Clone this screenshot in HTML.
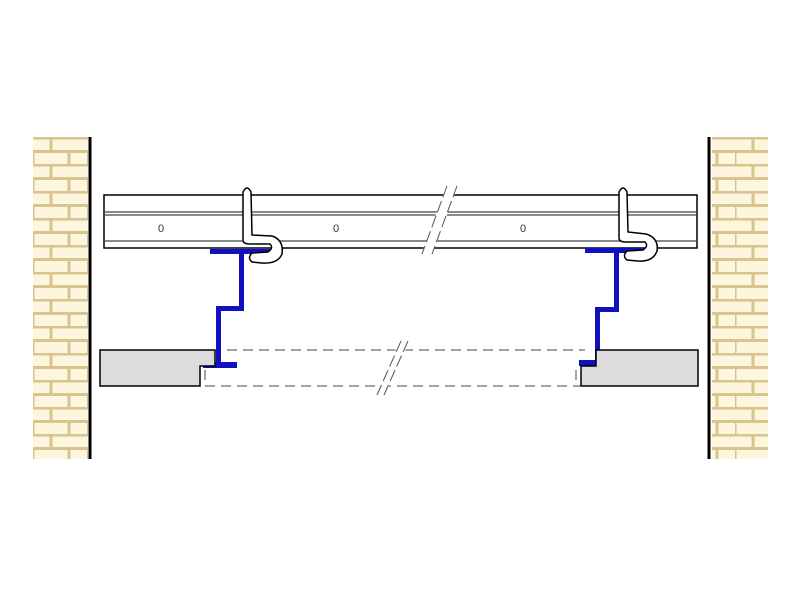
<!DOCTYPE html>
<html><head><style>html,body{margin:0;padding:0;background:#fff}svg{display:block}</style></head>
<body>
<svg width="800" height="600" xmlns="http://www.w3.org/2000/svg">
<defs>
<pattern id="brick" x="33" y="137" width="54" height="27" patternUnits="userSpaceOnUse">
<rect width="54" height="27" fill="#fdf6df"/>
<g stroke="#d8c48c" stroke-width="3" fill="none">
<line x1="0" y1="1" x2="54" y2="1"/><line x1="0" y1="14.5" x2="54" y2="14.5"/>
<line x1="18" y1="1" x2="18" y2="14.5"/><line x1="0" y1="14.5" x2="0" y2="27"/><line x1="36" y1="14.5" x2="36" y2="27"/>
</g>
</pattern>
</defs>
<rect x="33" y="137" width="55" height="322" fill="url(#brick)"/>
<rect x="712" y="137" width="56" height="322" fill="url(#brick)"/>
<line x1="90" y1="137" x2="90" y2="459" stroke="#000" stroke-width="3"/>
<line x1="709" y1="137" x2="709" y2="459" stroke="#000" stroke-width="3"/>

<!-- rail -->
<rect x="104" y="195" width="593" height="53" fill="#fff" stroke="#000" stroke-width="1.5"/>
<g stroke="#444" stroke-width="1.2">
<line x1="104" y1="212" x2="697" y2="212"/><line x1="104" y1="215" x2="697" y2="215"/>
<line x1="104" y1="241" x2="697" y2="241"/>
</g>
<polygon points="447,185 458,185 432,255 421,255" fill="#fff"/>
<line x1="447" y1="186" x2="422" y2="254" stroke="#555" stroke-width="1" stroke-dasharray="12,4"/>
<line x1="457" y1="186" x2="432" y2="254" stroke="#555" stroke-width="1" stroke-dasharray="12,4"/>
<g font-family="Liberation Sans,sans-serif" font-size="11" fill="#333" text-anchor="middle">
<text x="161" y="232">0</text><text x="336" y="232">0</text><text x="523" y="232">0</text>
</g>

<!-- blue brackets -->
<g fill="#1010c0">
<rect x="210" y="249" width="65" height="5"/>
<rect x="239" y="252" width="5" height="58"/>
<rect x="216" y="306" width="28" height="5"/>
<rect x="216" y="306" width="5" height="58"/>
<rect x="203" y="362" width="34" height="6"/>
<rect x="585" y="248" width="65" height="5"/>
<rect x="614" y="251" width="5" height="60"/>
<rect x="595" y="307" width="24" height="5"/>
<rect x="595" y="307" width="5" height="55"/>
<rect x="579" y="360" width="35" height="6"/>
</g>

<!-- hooks -->
<g fill="#fff" stroke="#000" stroke-width="1.5">
<path d="M243,240 L243,192 Q247,184 251,192 L252,235 L272,236 Q284,240 282,254 Q278,264 262,263 L252,262 Q247,258 252,253 L268,252 Q274,248 270,244 L250,244 Q243,244 243,240Z"/>
<path d="M619,238 L619,192 Q623,184 627,192 L628,232 L646,234 Q659,238 657,251 Q653,262 638,261 L627,260 Q622,256 627,251 L643,250 Q649,246 645,242 L626,242 Q619,242 619,238Z"/>
</g>

<!-- slabs -->
<path d="M100,350 L215,350 L215,366 L200,366 L200,386 L100,386Z" fill="#dcdcdc" stroke="#000" stroke-width="1.5"/>
<path d="M698,350 L596,350 L596,366 L581,366 L581,386 L698,386Z" fill="#dcdcdc" stroke="#000" stroke-width="1.5"/>
<g stroke="#444" stroke-width="1" stroke-dasharray="10,6" fill="none">
<line x1="227" y1="350" x2="585" y2="350"/>
<line x1="205" y1="386" x2="580" y2="386"/>
<line x1="205" y1="370" x2="205" y2="386"/>
<line x1="576" y1="370" x2="576" y2="386"/>
</g>
<polygon points="400,340 410,340 384,397 374,397" fill="#fff"/>
<line x1="401" y1="341" x2="377" y2="395" stroke="#555" stroke-width="1" stroke-dasharray="12,4"/>
<line x1="408" y1="341" x2="384" y2="395" stroke="#555" stroke-width="1" stroke-dasharray="12,4"/>
</svg>
</body></html>
